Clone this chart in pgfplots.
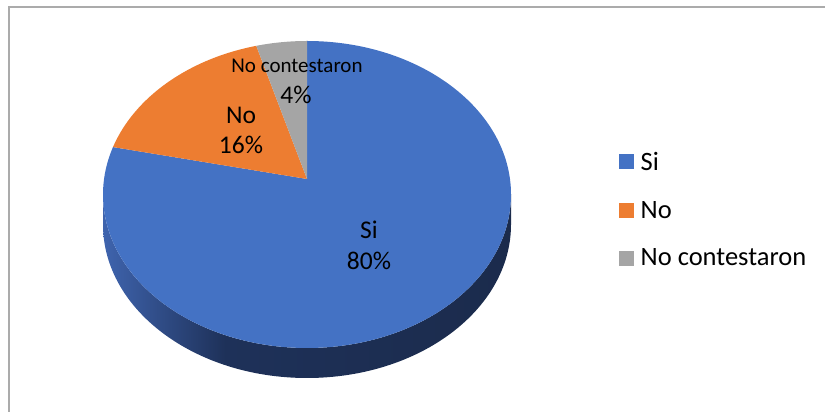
\documentclass[border=0pt]{standalone}
\usepackage{fontspec}
\setmainfont{Carlito}
\usepackage{pgfplots}
\usepackage{pgfplotstable}
\pgfplotsset{compat=1.18}

\definecolor{cSi}{HTML}{4472C4}
\definecolor{cNo}{HTML}{ED7D31}
\definecolor{cNC}{HTML}{A5A5A5}
\definecolor{sideL}{HTML}{3F64AE}
\definecolor{sideM}{HTML}{1E3159}
\definecolor{sideR}{HTML}{1B2B4C}
\definecolor{frame}{HTML}{ABABAB}

% the side gets lighter only towards its left end
\pgfdeclarehorizontalshading{pieside}{100bp}{
  color(0bp)=(sideL); color(25bp)=(sideL); color(40bp)=(sideM);
  color(75bp)=(sideR); color(100bp)=(sideR)}

\pgfplotstableread[col sep=comma]{
label,value
Si,80
No,16
No contestaron,4
}\piedata

% pie geometry, in picture units (1 unit = 1bp)
\def\cx{307}\def\cy{233}      % tip of the slices
\def\ex{307}\def\ey{217.5}    % centre of the top ellipse
\def\rx{204}\def\ry{153.5}
\def\depth{30}

% slice angles, clockwise from the top
\pgfmathsetmacro{\angA}{90}
\pgfplotstablegetelem{0}{value}\of\piedata
\pgfmathsetmacro{\angB}{\angA-3.6*\pgfplotsretval}
\pgfplotstablegetelem{1}{value}\of\piedata
\pgfmathsetmacro{\angC}{\angB-3.6*\pgfplotsretval}
\pgfplotstablegetelem{2}{value}\of\piedata
\pgfmathsetmacro{\angD}{\angC-3.6*\pgfplotsretval}

\begin{document}
\begin{tikzpicture}
\begin{axis}[
    width=825bp, height=412bp,
    scale only axis,
    xmin=0, xmax=825, ymin=0, ymax=412,
    hide axis,
  ]
  % frame
  \draw[frame, line width=1.2bp] (axis cs:9,0) -- (axis cs:9,405) -- (axis cs:825,405);

  % side of the pie
  \shade[shading=pieside]
    (axis cs:{\ex-\rx},\ey) arc[start angle=180, end angle=360, x radius=\rx bp, y radius=\ry bp]
    -- ++(0,-\depth bp)
    arc[start angle=360, end angle=180, x radius=\rx bp, y radius=\ry bp] -- cycle;

  % top face
  \fill[cSi] (axis cs:\cx,\cy) -- (axis cs:{\ex+\rx*cos(\angA)},{\ey+\ry*sin(\angA)})
    arc[start angle=\angA, end angle=\angB, x radius=\rx bp, y radius=\ry bp] -- cycle;
  \fill[cNo] (axis cs:\cx,\cy) -- (axis cs:{\ex+\rx*cos(\angB)},{\ey+\ry*sin(\angB)})
    arc[start angle=\angB, end angle=\angC, x radius=\rx bp, y radius=\ry bp] -- cycle;
  \fill[cNC] (axis cs:\cx,\cy) -- (axis cs:{\ex+\rx*cos(\angC)},{\ey+\ry*sin(\angC)})
    arc[start angle=\angC, end angle=\angD, x radius=\rx bp, y radius=\ry bp] -- cycle;

  % data labels
  \begin{scope}[every node/.style={anchor=base, inner sep=0pt, font=\fontsize{25.5bp}{30bp}\selectfont}]
    \node at (axis cs:369,173.7) {Si};
    \node at (axis cs:369,142.7) {80\%};
    \node at (axis cs:241,288.7) {No};
    \node at (axis cs:241,258.7) {16\%};
    \node at (axis cs:296,308) {4\%};
    \node[font=\fontsize{21bp}{25bp}\selectfont] at (axis cs:297,339.3) {No contestaron};
  \end{scope}

  % legend
  \fill[cSi] (axis cs:619,243) rectangle ++(15bp,15bp);
  \fill[cNo] (axis cs:619,194) rectangle ++(15bp,15bp);
  \fill[cNC] (axis cs:619,146) rectangle ++(15bp,15bp);
  \begin{scope}[every node/.style={anchor=base west, inner sep=0pt, font=\fontsize{26.5bp}{31bp}\selectfont}]
    \node at (axis cs:640.5,241) {Si};
    \node at (axis cs:640.5,193) {No};
    \node at (axis cs:640.5,146) {No contestaron};
  \end{scope}
\end{axis}
\pgfresetboundingbox
\path[use as bounding box] (current axis.south west) rectangle (current axis.north east);
\end{tikzpicture}
\end{document}
